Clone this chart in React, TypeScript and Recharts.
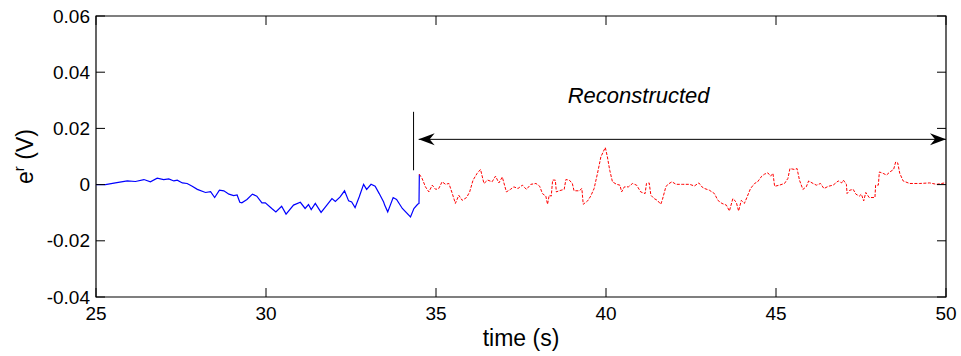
import { LineChart, Line, XAxis, YAxis, ReferenceArea, ReferenceLine, ReferenceDot } from "recharts";

// measured signal (blue) up to the switch-over, then reconstructed part (red)
const measuredTime = [
  25.0, 25.28, 25.57, 25.92, 26.16, 26.41, 26.6, 26.8, 26.99, 27.14, 27.29, 27.39, 27.54, 27.68, 27.83,
  27.98, 28.22, 28.37, 28.49, 28.63, 28.76, 28.91, 29.05, 29.15, 29.23, 29.29, 29.44, 29.6, 29.73, 29.88,
  29.98, 30.17, 30.29, 30.46, 30.59, 30.81, 31.01, 31.15, 31.25, 31.33, 31.45, 31.62, 31.79, 31.94, 32.04,
  32.18, 32.31, 32.43, 32.52, 32.62, 32.74, 32.87, 32.96, 33.09, 33.21, 33.33, 33.46, 33.49, 33.58, 33.74,
  33.84, 34.01, 34.25, 34.35, 34.46, 34.5, 34.51,
];
const measuredValue = [
  0, 0, 0.0006, 0.0013, 0.0011, 0.0018, 0.001, 0.0023, 0.0018, 0.002, 0.0013, 0.0016, 0.0006, 0.0004, -0.0006,
  -0.0017, -0.0028, -0.0025, -0.0046, -0.002, -0.0022, -0.0034, -0.0039, -0.0037, -0.0063, -0.0065, -0.0053, -0.0034, -0.0041, -0.0065,
  -0.0065, -0.0085, -0.0097, -0.0077, -0.0105, -0.0073, -0.0063, -0.0085, -0.0071, -0.0089, -0.0067, -0.0099, -0.0073, -0.005, -0.006,
  -0.0044, -0.0022, -0.0058, -0.0062, -0.0082, -0.0044, 0.0001, -0.0017, 0.0001, -0.0006, -0.0032, -0.0062, -0.0073, -0.0097, -0.0046,
  -0.0053, -0.0085, -0.0115, -0.0085, -0.007, -0.0067, 0.0037,
];

const reconTime = [
  34.51, 34.59, 34.69, 34.79, 34.89, 34.99, 35.08, 35.18, 35.28, 35.38, 35.48, 35.57, 35.67, 35.77, 35.9,
  35.99, 36.09, 36.21, 36.31, 36.41, 36.52, 36.65, 36.75, 36.85, 36.95, 37.07, 37.19, 37.29, 37.41, 37.54,
  37.66, 37.79, 37.94, 38.05, 38.13, 38.23, 38.28, 38.33, 38.39, 38.43, 38.51, 38.54, 38.62, 38.77, 38.82,
  38.92, 39.01, 39.06, 39.21, 39.29, 39.33, 39.46, 39.55, 39.65, 39.75, 39.85, 39.92, 39.98, 40.04, 40.11,
  40.19, 40.31, 40.41, 40.46, 40.54, 40.66, 40.78, 40.9, 41.02, 41.15, 41.19, 41.27, 41.32, 41.42, 41.51,
  41.61, 41.66, 41.76, 41.82, 41.94, 42.06, 42.26, 42.46, 42.6, 42.73, 42.82, 42.9, 43.04, 43.19, 43.29,
  43.41, 43.54, 43.63, 43.73, 43.83, 43.9, 43.98, 44.07, 44.15, 44.25, 44.37, 44.46, 44.58, 44.66, 44.76,
  44.84, 44.91, 44.96, 45.1, 45.25, 45.35, 45.41, 45.54, 45.62, 45.69, 45.79, 45.89, 45.96, 46.09, 46.19,
  46.31, 46.41, 46.54, 46.68, 46.83, 46.93, 46.98, 47.07, 47.09, 47.17, 47.27, 47.35, 47.45, 47.51, 47.58,
  47.64, 47.74, 47.91, 47.93, 48.01, 48.04, 48.15, 48.25, 48.35, 48.46, 48.52, 48.58, 48.64, 48.74, 48.93,
  49.23, 49.52, 49.72, 49.87, 49.96, 50.0,
];
const reconValue = [
  0.0037, 0.0022, -0.0008, -0.0026, -0.0002, -0.0017, -0.0014, 0.001, 0.0001, 0.0004, -0.0032, -0.0067, -0.0038, -0.0056, -0.0046,
  -0.0026, 0.0016, 0.004, 0.0054, 0.0004, 0.0016, 0.001, 0.003, 0.0006, 0.0027, -0.0026, -0.0017, -0.0008, -0.0014, -0.0002,
  -0.0017, 0.0001, 0.0004, -0.0006, -0.0032, -0.0041, -0.007, -0.0038, -0.0041, 0.0016, 0.0016, -0.0026, -0.0022, -0.0017, 0.0018,
  0.0016, 0.0004, -0.0022, -0.0022, -0.0014, -0.007, -0.0058, -0.0041, -0.0014, 0.004, 0.0099, 0.0117, 0.0132, 0.0099, 0.0051,
  0.001, 0.0001, -0.0002, -0.0026, -0.0008, -0.0008, 0.0004, -0.0002, -0.0026, -0.0032, 0.0004, 0.0006, -0.0038, -0.005, -0.0056,
  -0.007, -0.0053, -0.0008, 0.0001, 0.001, 0.0001, 0.0001, 0.0001, -0.0005, 0.0006, -0.0008, -0.0014, -0.002, -0.0032, -0.0056,
  -0.0067, -0.0073, -0.0094, -0.005, -0.0062, -0.0094, -0.0056, -0.0067, -0.0044, -0.0014, 0.0004, 0.001, 0.003, 0.0037, 0.0042,
  0.003, 0.004, -0.0006, -0.0002, 0.0004, 0.0022, 0.0057, 0.0054, 0.0057, 0.0016, -0.0017, -0.0008, 0.0013, 0.0004, -0.0002,
  0.0004, -0.0014, -0.0006, -0.0002, 0.0013, 0.0006, 0.0016, 0.0001, -0.0032, -0.002, -0.0017, -0.0034, -0.0041, -0.0034, -0.0058,
  -0.0028, -0.0046, -0.0046, -0.0002, -0.0002, 0.0045, 0.004, 0.0034, 0.0045, 0.0054, 0.0081, 0.0077, 0.004, 0.0013, 0.0004,
  0.0004, 0.0006, 0.0001, 0.0004, 0.0006, 0.0006,
];

const xTicks = [25, 30, 35, 40, 45, 50];
const yTicks = [-0.04, -0.02, 0, 0.02, 0.04, 0.06];

// annotation: switch-over marker and the "Reconstructed" span arrow
const markerTime = 34.34;
const markerRange = [0.0051, 0.0259];
const arrowSpan = [34.49, 50];
const arrowLevel = 0.0161;
const captionAt = { t: 40.96, v: 0.029 };

const W = 961;
const H = 356;
const PL = 96; // plot left
const PR = 946; // plot right
const PT = 16;
const PB = 297;
const FONT = "'Liberation Sans', Arial, sans-serif";

const measured = measuredTime.map((t, i) => ({ t, v: measuredValue[i] }));
const recon = reconTime.map((t, i) => ({ t, v: reconValue[i] }));

function XTick(props: any) {
  const { x, payload } = props;
  return (
    <g>
      <line x1={x} x2={x} y1={PB} y2={PB - 9} stroke="#000" />
      <line x1={x} x2={x} y1={PT} y2={PT + 9} stroke="#000" />
      <text x={x} y={PB + 23} textAnchor="middle" fontSize={19} fontFamily={FONT} fill="#000">
        {payload.value}
      </text>
    </g>
  );
}

function YTick(props: any) {
  const { y, payload } = props;
  const v = payload.value;
  const label = Math.abs(v) < 1e-9 ? "0" : v.toFixed(2);
  return (
    <g>
      <line x1={PL} x2={PL + 9} y1={y} y2={y} stroke="#000" />
      <line x1={PR - 9} x2={PR} y1={y} y2={y} stroke="#000" />
      <text x={PL - 6} y={y} textAnchor="end" dominantBaseline="central" fontSize={19} fontFamily={FONT} fill="#000">
        {label}
      </text>
    </g>
  );
}

function SpanArrow(props: any) {
  const { x1, x2, y1 } = props;
  const left = Math.min(x1, x2);
  const right = Math.max(x1, x2);
  const y = y1;
  const len = 16;
  const hw = 6;
  const notch = 5;
  return (
    <g>
      <line x1={left} x2={right} y1={y} y2={y} stroke="#000" strokeWidth={1} />
      <polygon points={`${left},${y} ${left + len},${y - hw} ${left + len - notch},${y} ${left + len},${y + hw}`} fill="#000" />
      <polygon points={`${right},${y} ${right - len},${y - hw} ${right - len + notch},${y} ${right - len},${y + hw}`} fill="#000" />
    </g>
  );
}

function Caption(props: any) {
  const { cx, cy } = props;
  return (
    <text x={cx} y={cy} textAnchor="middle" fontSize={22} fontStyle="italic" fontFamily={FONT} fill="#000">
      Reconstructed
    </text>
  );
}

const xLabel = () => (
  <text x={(PL + PR) / 2} y={346} textAnchor="middle" fontSize={23} fontFamily={FONT} fill="#000">
    time (s)
  </text>
);

const yLabel = () => (
  <text
    x={33}
    y={(PT + PB) / 2}
    transform={`rotate(-90 33 ${(PT + PB) / 2})`}
    textAnchor="middle"
    fontSize={23}
    fontFamily={FONT}
    fill="#000"
  >
    e<tspan dy={-9} fontSize={15}>r</tspan>
    <tspan dy={9}> (V)</tspan>
  </text>
);

export default function App() {
  return (
    <div style={{ width: W, height: H, background: "#fff" }}>
      <style>{"body{margin:0}"}</style>
      <LineChart width={W} height={H} margin={{ top: PT, right: W - PR, bottom: H - PB - 40, left: 0 }}>
        <XAxis
          type="number"
          dataKey="t"
          domain={[25, 50]}
          ticks={xTicks}
          allowDataOverflow
          axisLine={false}
          tickLine={false}
          tickSize={0}
          height={40}
          tick={<XTick />}
          label={xLabel}
        />
        <YAxis
          type="number"
          dataKey="v"
          domain={[-0.04, 0.06]}
          ticks={yTicks}
          allowDataOverflow
          axisLine={false}
          tickLine={false}
          tickSize={0}
          width={PL}
          tick={<YTick />}
          label={yLabel}
        />
        <ReferenceArea x1={25} x2={50} y1={-0.04} y2={0.06} fill="none" stroke="#000" strokeWidth={1.2} />
        <Line
          data={measured}
          dataKey="v"
          type="linear"
          stroke="#0000ff"
          strokeWidth={1.2}
          dot={false}
          isAnimationActive={false}
        />
        <Line
          data={recon}
          dataKey="v"
          type="linear"
          stroke="#ff0000"
          strokeWidth={1}
          strokeDasharray="3 1.5"
          dot={false}
          isAnimationActive={false}
        />
        <ReferenceLine
          segment={[
            { x: markerTime, y: markerRange[0] },
            { x: markerTime, y: markerRange[1] },
          ]}
          stroke="#000"
          strokeWidth={1}
        />
        <ReferenceLine
          segment={[
            { x: arrowSpan[0], y: arrowLevel },
            { x: arrowSpan[1], y: arrowLevel },
          ]}
          shape={SpanArrow}
        />
        <ReferenceDot x={captionAt.t} y={captionAt.v} r={0} shape={Caption} />
      </LineChart>
    </div>
  );
}
